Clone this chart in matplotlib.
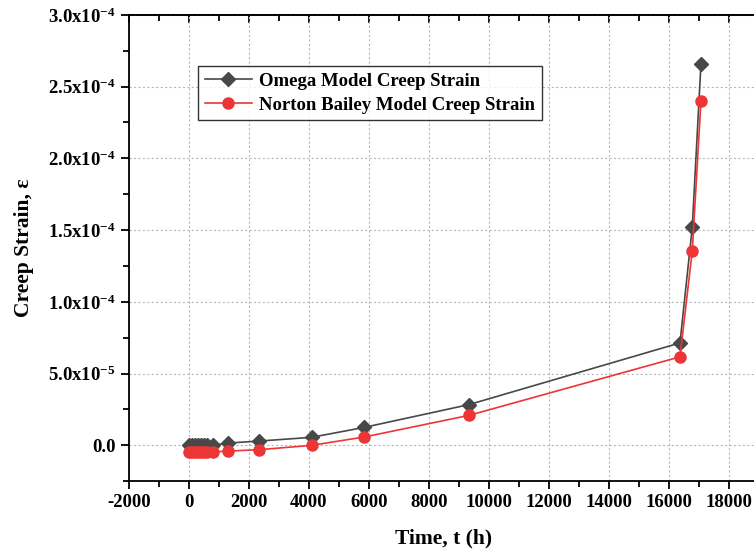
import matplotlib.pyplot as plt, numpy as np
from matplotlib.ticker import MultipleLocator, FuncFormatter

plt.rcParams['font.family'] = ['Liberation Serif', 'DejaVu Serif']
plt.rcParams['font.weight'] = 'bold'
plt.rcParams['mathtext.fontset'] = 'custom'
plt.rcParams['mathtext.rm'] = 'Liberation Serif:bold'
plt.rcParams['mathtext.it'] = 'Liberation Serif:bold'
plt.rcParams['axes.unicode_minus'] = False

# time (h) and creep strain
time_h = [0, 100, 200, 300, 400, 500, 600, 800, 1300, 2340, 4090, 5840, 9340, 16380, 16790, 17080]
omega = [0.0, 0.0, 0.0, 0.0, 0.0, 0.0, 0.0, 0.0, 1.6e-6, 3.0e-6, 5.6e-6, 1.25e-5, 2.84e-5, 7.14e-5, 1.52e-4, 2.66e-4]
norton = [-4.7e-6, -4.7e-6, -4.7e-6, -4.7e-6, -4.7e-6, -4.7e-6, -4.7e-6, -4.6e-6, -4.0e-6, -3.0e-6, 0.0, 5.8e-6, 2.09e-5, 6.17e-5, 1.355e-4, 2.40e-4]

fig = plt.figure(figsize=(7.54, 5.5), dpi=100)
ax = fig.add_axes([0.171, 0.125, 0.835, 0.848])

ax.plot(time_h, omega, color='#484848', lw=1.2, marker='D', ms=7, label='Omega Model Creep Strain', zorder=3)
ax.plot(time_h, norton, color='#ee3535', lw=1.2, marker='o', ms=8, label='Norton Bailey Model Creep Strain', zorder=4)

ax.set_xlim(-2000, 19000)
ax.set_ylim(-2.5e-5, 3.0e-4)
ax.xaxis.set_major_locator(MultipleLocator(2000))
ax.xaxis.set_minor_locator(MultipleLocator(1000))
ax.yaxis.set_major_locator(MultipleLocator(5e-5))
ax.yaxis.set_minor_locator(MultipleLocator(2.5e-5))

def yfmt(v, pos):
    if abs(v) < 1e-12:
        return '0.0'
    e = int(np.floor(np.log10(abs(v))))
    m = v / 10**e
    return '%.1fx10$^{%d}$' % (m, e)

ax.yaxis.set_major_formatter(FuncFormatter(yfmt))
ax.tick_params(axis='both', which='both', labelsize=13.5, width=1.3)
ax.tick_params(which='major', length=6)
ax.tick_params(which='minor', length=4)
for s in ['left', 'bottom', 'top']:
    ax.spines[s].set_linewidth(1.3)
ax.spines['right'].set_visible(False)

# top ticks point inward, no labels
top = ax.secondary_xaxis('top')
top.xaxis.set_major_locator(MultipleLocator(2000))
top.xaxis.set_minor_locator(MultipleLocator(1000))
top.tick_params(which='both', direction='in', labeltop=False, width=1.3)
top.tick_params(which='major', length=6)
top.tick_params(which='minor', length=4)
top.spines['top'].set_linewidth(1.3)

ax.grid(True, which='major', color='#b8b8b8', lw=0.8, linestyle=(0, (2, 2)))
ax.set_axisbelow(True)

ax.set_xlabel('Time, t (h)', fontsize=15.5, fontweight='bold', labelpad=12)
ax.set_ylabel('Creep Strain, ε', fontsize=15.5, fontweight='bold', labelpad=10)

leg = ax.legend(loc='upper left', bbox_to_anchor=(0.095, 0.91), fontsize=13.5,
                frameon=True, fancybox=False, edgecolor='black', handlelength=2.5,
                borderpad=0.35, labelspacing=0.35, handletextpad=0.4)
leg.get_frame().set_linewidth(1.0)
for t in leg.get_texts():
    t.set_fontweight('bold')

fig.savefig('out.png', dpi=100)
